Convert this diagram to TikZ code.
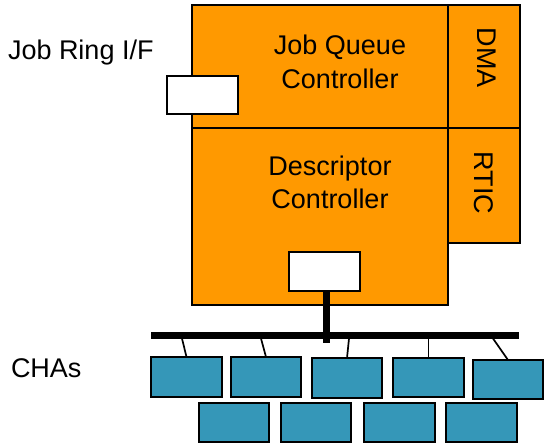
\documentclass[tikz,border=0pt]{standalone}
\usepackage{fontspec}
\setmainfont{Liberation Sans}
\definecolor{blkorange}{RGB}{255,153,0}
\definecolor{chablue}{RGB}{53,151,184}
\begin{document}
\begin{tikzpicture}[x=1bp,y=-1bp,
  every node/.style={inner sep=0pt, outer sep=0pt},
  blk/.style={draw=black, line width=2bp, fill=blkorange},
  port/.style={draw=black, line width=2bp, fill=white, minimum width=71bp, minimum height=38bp},
  cha/.style={draw=black, line width=2bp, fill=chablue, minimum width=70bp, minimum height=39bp},
  lbl/.style={font=\fontsize{27bp}{32bp}\selectfont, text=black},
  bus/.style={line width=7bp, line cap=butt},
  tap/.style={line width=1.7bp}]
\useasboundingbox (0,0) rectangle (548,448);
% orange blocks
\node[blk, minimum width=256bp, minimum height=123bp] (jq) at (320,66.5) {};
\node[blk, minimum width=72bp, minimum height=123bp] (dma) at (484,66.5) {};
\node[blk, minimum width=256bp, minimum height=177bp] (dc) at (320,216.5) {};
\node[blk, minimum width=72bp, minimum height=115bp] (rtic) at (484,185.5) {};
% ports
\node[port] (jrif) at (202.5,95) {};
\node[port, minimum height=39bp] (dport) at (324.5,271.5) {};
% labels
\node[lbl, anchor=base west] (jrl) at (8,60) {Job Ring I/F};
\node[lbl, anchor=base west] (chal) at (11,377) {CHAs};
\node[lbl, anchor=base] (jqa) at (340,55) {Job Queue};
\node[lbl, anchor=base] (jqb) at (340,89) {Controller};
\node[lbl, anchor=base] (dca) at (330,176) {Descriptor};
\node[lbl, anchor=base] (dcb) at (330,209) {Controller};
\node[lbl, rotate=-90] (dmal) at (487,58) {DMA};
\node[lbl, rotate=-90] (rticl) at (484,183) {RTIC};
% bus
\coordinate (busL) at (151,335);
\coordinate (busR) at (519,335);
\coordinate (stemEnd) at (326,343);
\draw[bus] (dport.south -| stemEnd) -- (stemEnd);
\draw[bus] (busL) -- (busR);
% CHAs
\node[cha, minimum width=71bp, minimum height=40bp] (c1) at (186.5,377) {};
\node[cha, minimum height=40bp] (c2) at (266,377) {};
\node[cha, minimum height=40bp] (c3) at (347,378) {};
\node[cha, minimum width=71bp, minimum height=39bp] (c4) at (428.5,377.5) {};
\node[cha, minimum height=39bp] (c5) at (508,379.5) {};
\node[cha] (c6) at (234,422.5) {};
\node[cha] (c7) at (316,422.5) {};
\node[cha, minimum width=71bp] (c8) at (399.5,422.5) {};
\node[cha, minimum width=71bp] (c9) at (481.5,422.5) {};
% taps
\coordinate (t1) at (182,338.5);
\coordinate (t2) at (261,338.5);
\coordinate (t3) at (349,338.5);
\coordinate (t4) at (428.5,338.5);
\coordinate (t5) at (493,338.5);
\draw[tap] (t1) -- (c1.north);
\draw[tap] (t2) -- (c2.north);
\draw[tap] (t3) -- (c3.north);
\draw[tap] (t4) -- (c4.north);
\draw[tap] (t5) -- (c5.north);
\end{tikzpicture}
\end{document}
